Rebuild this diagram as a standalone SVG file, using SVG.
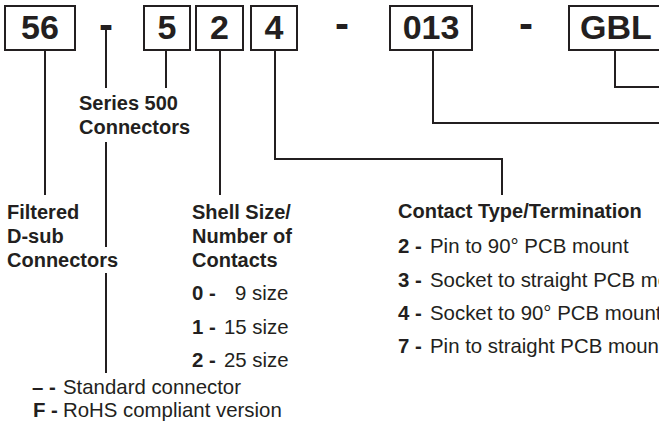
<svg xmlns="http://www.w3.org/2000/svg" width="659" height="424" viewBox="0 0 659 424">
<style>
.box{fill:#fff;stroke:#231f20;stroke-width:2}
.code{font-family:"Liberation Sans",Arial,sans-serif;font-weight:bold;font-size:34px;fill:#231f20;text-anchor:middle}
.dash{font-family:"Liberation Sans",Arial,sans-serif;font-weight:bold;font-size:42px;fill:#231f20;text-anchor:middle}
.lbl{font-family:"Liberation Sans",Arial,sans-serif;font-weight:bold;font-size:20px;fill:#231f20}
.txt{font-family:"Liberation Sans",Arial,sans-serif;font-size:20.4px;fill:#231f20}
.b{font-weight:bold}
.ln{fill:none;stroke:#231f20;stroke-width:2}
</style>
<rect width="659" height="424" fill="#fff"/>
<g id="connectors">
<path class="ln" d="M45,51V195"/>
<path class="ln" d="M106,30V88M106,142V247M106,273V373"/>
<path class="ln" d="M166,51V88"/>
<path class="ln" d="M220,51V195"/>
<path class="ln" d="M275,51V159H502V195"/>
<path class="ln" d="M433,51V123H660"/>
<path class="ln" d="M615,51V87H660"/>
</g>
<g id="box56"><rect class="box" x="5" y="6" width="70" height="44"/><text class="code" x="40" y="39">56</text></g>
<g id="dash1"><text class="dash" x="106" y="39">-</text></g>
<g id="box5"><rect class="box" x="144" y="6" width="46" height="44"/><text class="code" x="167" y="39">5</text></g>
<g id="box2"><rect class="box" x="196" y="6" width="47" height="44"/><text class="code" x="219.5" y="39">2</text></g>
<g id="box4"><rect class="box" x="251" y="6" width="46" height="44"/><text class="code" x="274" y="39">4</text></g>
<g id="dash2"><text class="dash" x="342" y="38">-</text></g>
<g id="box013"><rect class="box" x="390" y="6" width="82" height="44"/><text class="code" x="431" y="39">013</text></g>
<g id="dash3"><text class="dash" x="526" y="38">-</text></g>
<g id="boxGBL"><rect class="box" x="569" y="6" width="100" height="44"/><text class="code" x="580" y="39" style="text-anchor:start">GBL</text></g>
<g id="series">
<text class="lbl" x="79" y="110">Series 500</text>
<text class="lbl" x="79" y="134">Connectors</text>
</g>
<g id="filtered">
<text class="lbl" x="7" y="219">Filtered</text>
<text class="lbl" x="7" y="243">D-sub</text>
<text class="lbl" x="7" y="267">Connectors</text>
</g>
<g id="shell">
<text class="lbl" x="192" y="219">Shell Size/</text>
<text class="lbl" x="192" y="243">Number of</text>
<text class="lbl" x="192" y="267">Contacts</text>
<text class="txt" x="192" y="300"><tspan class="b">0 -</tspan><tspan x="235">9 size</tspan></text>
<text class="txt" x="192" y="334"><tspan class="b">1 -</tspan><tspan x="224">15 size</tspan></text>
<text class="txt" x="192" y="367"><tspan class="b">2 -</tspan><tspan x="224">25 size</tspan></text>
</g>
<g id="contact">
<text class="lbl" x="398" y="218">Contact Type/Termination</text>
<text class="txt" x="398" y="253"><tspan class="b">2 -</tspan><tspan x="430">Pin to 90° PCB mount</tspan></text>
<text class="txt" x="398" y="287"><tspan class="b">3 -</tspan><tspan x="430">Socket to straight PCB mount</tspan></text>
<text class="txt" x="398" y="320"><tspan class="b">4 -</tspan><tspan x="430">Socket to 90° PCB mount</tspan></text>
<text class="txt" x="398" y="353"><tspan class="b">7 -</tspan><tspan x="430">Pin to straight PCB mount</tspan></text>
</g>
<g id="rohs">
<text class="txt" x="32" y="394"><tspan class="b">– -</tspan><tspan x="63">Standard connector</tspan></text>
<text class="txt" x="33" y="417"><tspan class="b">F -</tspan><tspan x="63">RoHS compliant version</tspan></text>
</g>
</svg>
